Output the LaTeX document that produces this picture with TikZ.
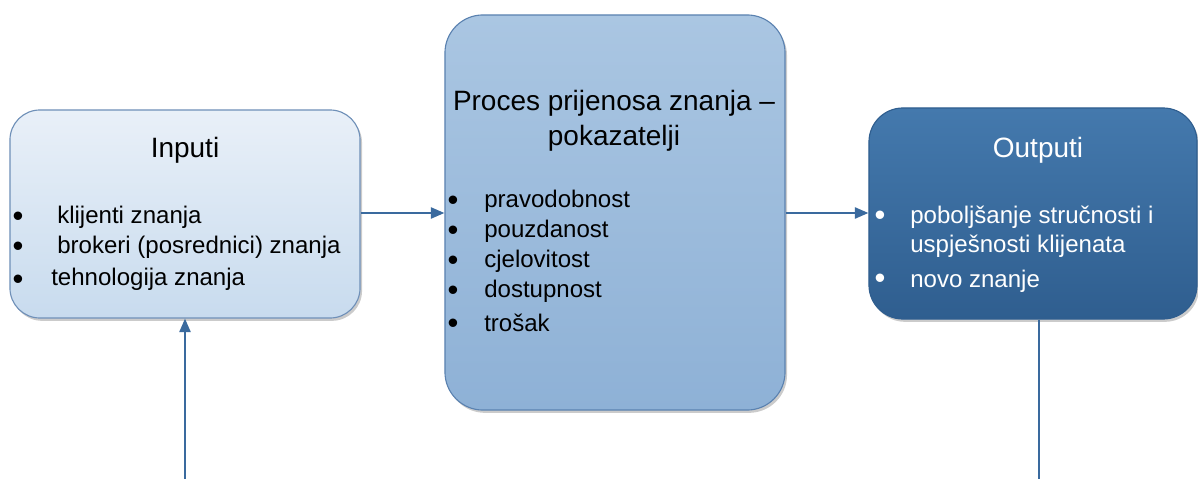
\documentclass[tikz,border=0pt]{standalone}
\usepackage{fontspec}
\setmainfont{Liberation Sans}
\usetikzlibrary{arrows.meta, shadows}

\definecolor{inTop}{HTML}{E9F0F8}
\definecolor{inBot}{HTML}{C8DBEE}
\definecolor{inEdge}{HTML}{6F90B8}
\definecolor{procTop}{HTML}{AAC6E2}
\definecolor{procBot}{HTML}{8EB1D6}
\definecolor{procEdge}{HTML}{5B82B0}
\definecolor{outTop}{HTML}{4479AD}
\definecolor{outBot}{HTML}{2F5E8F}
\definecolor{linkBlue}{HTML}{3A6A9E}

\newcommand{\titlefont}{\fontsize{19.9}{24}\selectfont}
\newcommand{\bodyfont}{\fontsize{17.1}{20}\selectfont}
\newcommand{\bulfont}{\fontsize{22}{22}\selectfont}

\begin{document}
\begin{tikzpicture}[x=0.025cm, y=-0.025cm,
  box/.style={line width=0.8pt, inner sep=0pt,
    drop shadow={shadow xshift=0.05cm, shadow yshift=-0.07cm, fill=black!45, opacity=0.45}},
  link/.style={draw=linkBlue, line width=1.4pt},
  arr/.style={link, -{Triangle[length=0.34cm, width=0.28cm]}},
  txt/.style={anchor=base west, inner sep=0pt, font=\bodyfont},
  bul/.style={anchor=base, inner sep=0pt, font=\bulfont, text height=1.2ex, text depth=0pt}]
\useasboundingbox (0,0) rectangle (1198,479);

%%%%%%%%%%%%%%%%%%%%%%%%%%%%%%%%%%%%%%%%%
% boxes
\node[box, draw=inEdge, top color=inTop, bottom color=inBot, rounded corners=0.75cm,
  minimum width=8.75cm, minimum height=5.2cm] (in) at (185,214) {};
\node[box, draw=procEdge, top color=procTop, bottom color=procBot, rounded corners=0.95cm,
  minimum width=8.5cm, minimum height=9.875cm] (proc) at (615,212.5) {};
\node[box, draw=outBot, top color=outTop, bottom color=outBot, rounded corners=0.85cm,
  minimum width=8.2cm, minimum height=5.275cm] (out) at (1033,213.5) {};

%%%%%%%%%%%%%%%%%%%%%%%%%%%%%%%%%%%%%%%%%
% Inputi
\node[anchor=base, inner sep=0pt, font=\titlefont] (inTitle) at (185,157) {Inputi};

\node[bul] (inB1) at (18,226) {\textbullet};
\node[bul] (inB2) at (18,256) {\textbullet};
\node[bul] (inB3) at (18,289) {\textbullet};

\node[txt] (inT1) at (57,223) {klijenti znanja};
\node[txt] (inT2) at (57,253) {brokeri (posrednici) znanja};
\node[txt] (inT3) at (51,285) {tehnologija znanja};

%%%%%%%%%%%%%%%%%%%%%%%%%%%%%%%%%%%%%%%%%
% proces
\node[anchor=base, inner sep=0pt, font=\titlefont] (procTitleA) at (614,110) {Proces prijenosa znanja –};
\node[anchor=base, inner sep=0pt, font=\titlefont] (procTitleB) at (614,145) {pokazatelji};

\node[bul] (procB1) at (453,210) {\textbullet};
\node[bul] (procB2) at (453,240) {\textbullet};
\node[bul] (procB3) at (453,270) {\textbullet};
\node[bul] (procB4) at (453,300) {\textbullet};
\node[bul] (procB5) at (453,333) {\textbullet};

\node[txt] (procT1) at (484,207) {pravodobnost};
\node[txt] (procT2) at (484,237) {pouzdanost};
\node[txt] (procT3) at (484,267) {cjelovitost};
\node[txt] (procT4) at (484,297) {dostupnost};
\node[txt] (procT5) at (484,331) {trošak};

%%%%%%%%%%%%%%%%%%%%%%%%%%%%%%%%%%%%%%%%%
% Outputi
\node[anchor=base, inner sep=0pt, font=\titlefont, text=white] (outTitle) at (1038,157) {Outputi};

\node[bul, text=white] (outB1) at (880,225) {\textbullet};
\node[bul, text=white] (outB2) at (880,288) {\textbullet};

\node[txt, text=white] (outT1) at (910,223) {poboljšanje stručnosti i};
\node[txt, text=white] (outT2) at (910,252) {uspješnosti klijenata};
\node[txt, text=white] (outT3) at (910,287) {novo znanje};

%%%%%%%%%%%%%%%%%%%%%%%%%%%%%%%%%%%%%%%%%
% connectors
\coordinate (inFoot) at (185,479);
\coordinate (outFoot) at (1039,479);

\draw[arr] (in.east |- 0,213) -- (proc.west |- 0,213);
\draw[arr] (proc.east |- 0,213) -- (out.west |- 0,213);
\draw[arr] (inFoot) -- (in.south);
\draw[link] (out.south -| outFoot) -- (outFoot);

\end{tikzpicture}
\end{document}
